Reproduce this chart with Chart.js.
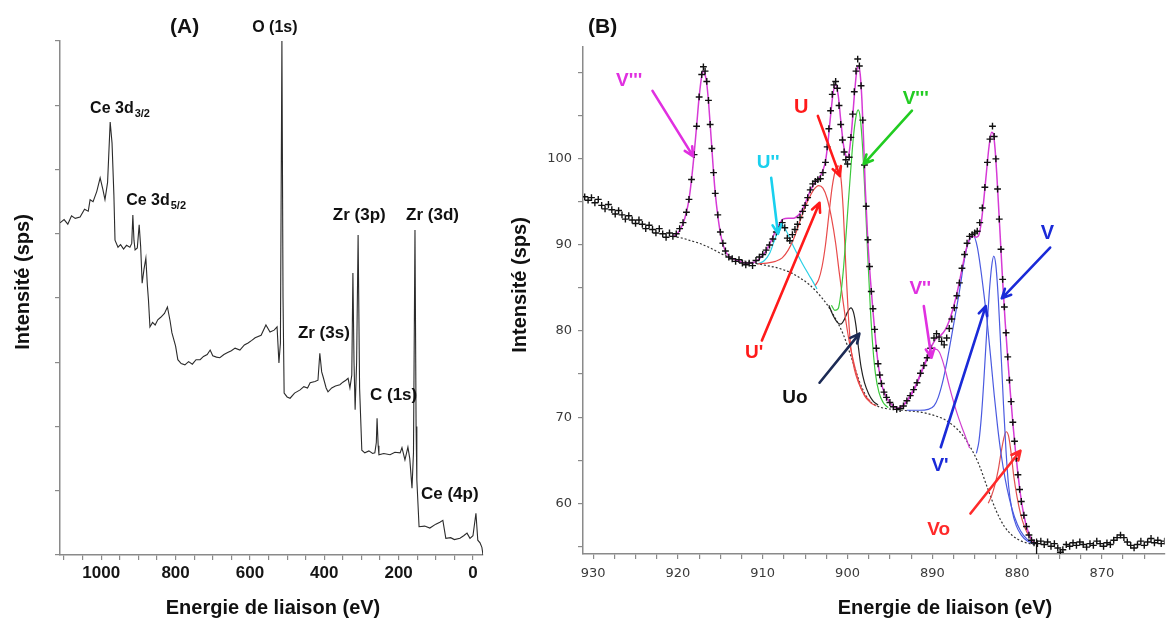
<!DOCTYPE html>
<html>
<head>
<meta charset="utf-8">
<script src="https://cdn.jsdelivr.net/npm/chart.js@4.4.1/dist/chart.umd.min.js"></script>
<style>
  body { margin: 0; background: #fff; width: 1170px; height: 623px; position: relative; overflow: hidden; }
  #survey { position: absolute; left: 0; top: 0; }
  #ce3d { position: absolute; left: 500px; top: 0; }
</style>
</head>
<body>
<canvas id="survey" width="500" height="623"></canvas>
<canvas id="ce3d" width="670" height="623"></canvas>
<script>
// (A) survey spectrum : [binding energy eV, intensity (arb.)]
const survey = [
  [1111, 5.17], [1100, 5.22], [1090, 5.15], [1080, 5.28], [1070, 5.24], [1057, 5.26], [1045, 5.38],
  [1035, 5.35], [1030, 5.53], [1022, 5.50], [1012, 5.66], [1003, 5.87], [996, 5.70], [990, 5.53],
  [983, 5.80], [976, 6.74], [971, 6.41], [966, 5.60], [963, 4.90], [955, 4.79], [948, 4.83],
  [940, 4.76], [932, 4.82], [923, 4.79], [918, 4.85], [915, 5.29], [912, 4.90], [909, 4.75],
  [903, 4.78], [898, 5.14], [894, 4.80], [890, 4.23], [885, 4.45], [880, 4.62], [876, 4.20],
  [873, 3.97], [869, 3.55], [862, 3.62], [855, 3.58], [848, 3.66], [840, 3.70], [830, 3.76],
  [822, 3.86], [815, 3.65], [810, 3.46], [800, 3.25], [794, 3.04], [785, 2.98], [775, 2.96],
  [765, 3.01], [755, 2.97], [745, 3.04], [734, 3.04], [725, 3.09], [715, 3.12], [707, 3.19],
  [700, 3.10], [690, 3.08], [681, 3.07], [670, 3.12], [660, 3.15], [650, 3.18], [640, 3.22],
  [627, 3.19], [615, 3.27], [605, 3.30], [595, 3.34], [586, 3.38], [570, 3.42], [557, 3.58],
  [546, 3.47], [535, 3.50], [527, 3.55], [522, 2.99], [518, 3.30], [514, 8.00], [511, 4.00],
  [508, 2.52], [500, 2.46], [492, 2.44], [480, 2.52], [465, 2.57], [455, 2.62], [445, 2.60],
  [438, 2.68], [425, 2.70], [417, 2.72], [412, 3.14], [407, 2.85], [403, 2.77], [395, 2.60],
  [390, 2.54], [380, 2.60], [370, 2.63], [358, 2.65], [350, 2.69], [342, 2.72], [336, 2.75],
  [331, 2.60], [326, 2.80], [323, 4.39], [320, 3.00], [317, 2.26], [313, 3.00], [309, 4.98],
  [305, 2.60], [299, 1.63], [291, 1.59], [280, 1.62], [270, 1.58], [264, 1.59], [260, 1.75],
  [258, 2.13], [255, 1.70], [253, 1.56], [240, 1.58], [223, 1.56], [210, 1.60], [196, 1.59],
  [191, 1.67], [183, 1.48], [175, 1.68], [170, 1.50], [164, 1.04], [160, 1.60], [156, 5.06],
  [153, 2.00], [151, 1.17], [145, 0.44], [130, 0.45], [116, 0.42], [100, 0.48], [89, 0.51],
  [81, 0.54], [73, 0.26], [60, 0.27], [50, 0.24], [35, 0.26], [25, 0.30], [16, 0.34], [8, 0.26],
  [0, 0.30], [-8, 0.65], [-13, 0.23], [-19, 0.19], [-24, 0.12], [-27, 0.0]
];

// (B) Ce 3d : measured points
const ceExp = [
  [931.0, 95.6], [930.6, 95.2], [930.2, 95.5], [929.8, 94.9], [929.4, 95.3], [929.0, 94.6], [928.6, 94.2],
  [928.2, 94.7], [927.8, 94.1], [927.4, 93.6], [927.0, 94.0], [926.6, 93.5], [926.2, 93.0], [925.8, 93.4],
  [925.4, 92.9], [925.0, 92.5], [924.6, 92.9], [924.2, 92.4], [923.8, 91.9], [923.4, 92.3], [923.0, 91.8],
  [922.6, 91.4], [922.2, 91.9], [921.8, 91.3], [921.4, 90.9], [921.0, 91.4], [920.6, 91.0], [920.2, 91.3],
  [919.8, 91.9], [919.4, 92.6], [919.0, 93.8], [918.7, 95.3], [918.4, 97.6], [918.1, 100.5], [917.8, 103.8],
  [917.5, 107.2], [917.2, 109.8], [917.0, 110.7], [916.8, 110.2], [916.6, 109.0], [916.4, 106.8], [916.2, 104.0],
  [916.0, 101.2], [915.8, 98.4], [915.6, 96.0], [915.3, 93.5], [915.0, 91.5], [914.7, 90.2], [914.4, 89.3],
  [914.0, 88.6], [913.6, 88.4], [913.2, 88.1], [912.8, 88.3], [912.4, 87.9], [912.0, 87.7], [911.6, 87.9],
  [911.2, 87.6], [910.8, 88.2], [910.4, 88.6], [910.0, 88.9], [909.6, 89.4], [909.2, 90.0], [908.8, 90.7],
  [908.4, 91.5], [908.0, 92.1], [907.7, 92.6], [907.4, 92.0], [907.1, 90.8], [906.8, 90.5], [906.5, 91.2],
  [906.2, 91.8], [905.9, 92.4], [905.6, 93.2], [905.3, 93.9], [905.0, 94.6], [904.7, 95.5], [904.4, 96.4],
  [904.1, 97.1], [903.8, 97.4], [903.5, 97.6], [903.2, 97.7], [902.9, 98.4], [902.6, 99.6], [902.4, 101.4],
  [902.2, 103.5], [902.0, 105.6], [901.8, 107.5], [901.6, 108.6], [901.4, 109.0], [901.2, 108.2], [901.0, 106.2],
  [900.8, 104.0], [900.6, 102.2], [900.4, 100.8], [900.2, 99.9], [900.0, 99.4], [899.8, 100.2], [899.6, 102.5],
  [899.4, 105.2], [899.2, 107.8], [899.0, 110.2], [898.8, 111.6], [898.6, 110.8], [898.4, 108.5], [898.2, 104.5],
  [898.0, 99.3], [897.8, 94.5], [897.6, 90.6], [897.4, 87.5], [897.2, 84.6], [897.0, 82.6], [896.8, 80.2],
  [896.6, 78.0], [896.4, 76.2], [896.2, 74.9], [896.0, 73.9], [895.7, 72.9], [895.4, 72.3], [895.0, 71.7],
  [894.6, 71.2], [894.2, 70.9], [893.8, 71.0], [893.4, 71.3], [893.0, 71.9], [892.6, 72.5], [892.2, 73.2],
  [891.8, 74.0], [891.4, 75.1], [891.0, 76.0], [890.6, 76.9], [890.2, 78.0], [889.8, 79.2], [889.5, 79.7],
  [889.2, 79.3], [888.9, 78.8], [888.6, 78.4], [888.3, 79.2], [888.0, 80.3], [887.7, 81.4], [887.4, 82.7],
  [887.1, 84.1], [886.8, 85.6], [886.5, 87.3], [886.2, 88.9], [885.9, 90.2], [885.6, 91.0], [885.3, 91.2],
  [885.0, 91.4], [884.7, 91.6], [884.4, 92.6], [884.1, 94.3], [883.8, 96.7], [883.5, 99.6], [883.2, 102.3],
  [882.9, 103.8], [882.7, 102.6], [882.5, 100.0], [882.3, 96.5], [882.1, 93.0], [881.9, 89.5], [881.7, 86.0],
  [881.5, 82.8], [881.3, 79.8], [881.1, 77.0], [880.9, 74.3], [880.7, 71.8], [880.5, 69.4], [880.3, 67.2],
  [880.1, 65.2], [879.9, 63.3], [879.7, 61.6], [879.5, 60.2], [879.2, 58.6], [878.9, 57.3], [878.6, 56.3],
  [878.3, 55.7], [878.0, 55.4], [877.6, 55.3], [877.2, 55.6], [876.8, 55.2], [876.4, 55.5], [876.0, 55.0],
  [875.6, 55.3], [875.2, 54.8], [874.9, 54.3], [874.6, 54.6], [874.2, 55.2], [873.8, 55.0], [873.4, 55.4],
  [873.0, 55.1], [872.6, 55.5], [872.2, 55.2], [871.8, 54.9], [871.4, 55.3], [871.0, 55.1], [870.6, 55.6],
  [870.2, 55.3], [869.8, 55.0], [869.4, 55.4], [869.0, 55.2], [868.6, 55.7], [868.2, 56.0], [867.8, 56.3],
  [867.4, 56.0], [867.0, 55.5], [866.6, 55.1], [866.2, 54.8], [865.8, 55.2], [865.4, 55.6], [865.0, 55.1],
  [864.6, 55.5], [864.2, 55.9], [863.8, 55.4], [863.4, 55.7], [863.0, 55.3], [862.6, 55.6]
];

// fitted envelope
const ceFit = [
  [920.6, 91.0], [920.2, 91.2], [919.8, 91.7], [919.4, 92.5], [919.0, 93.8], [918.7, 95.3], [918.4, 97.6],
  [918.1, 100.5], [917.8, 103.8], [917.5, 107.2], [917.2, 109.6], [917.0, 110.2], [916.8, 109.8], [916.6, 108.7],
  [916.4, 106.7], [916.2, 104.0], [916.0, 101.2], [915.8, 98.4], [915.6, 96.0], [915.3, 93.4], [915.0, 91.4],
  [914.7, 90.1], [914.4, 89.3], [914.0, 88.7], [913.0, 88.2], [912.0, 87.9], [911.0, 88.0], [910.4, 88.4],
  [910.0, 88.8], [909.5, 89.5], [909.0, 90.5], [908.5, 91.6], [908.0, 92.5], [907.6, 93.0], [907.0, 93.1],
  [906.4, 93.1], [906.0, 93.3], [905.6, 93.7], [905.2, 94.4], [904.8, 95.3], [904.4, 96.3], [904.0, 97.0],
  [903.6, 97.5], [903.2, 98.0], [902.9, 98.7], [902.6, 99.7], [902.3, 102.0], [902.0, 105.0], [901.7, 107.6],
  [901.4, 108.6], [901.1, 107.4], [900.8, 104.5], [900.5, 101.8], [900.2, 100.4], [900.0, 100.2], [899.8, 100.8],
  [899.5, 103.5], [899.2, 107.3], [898.9, 110.3], [898.7, 110.8], [898.5, 109.8], [898.3, 106.8], [898.1, 102.0],
  [897.9, 96.5], [897.6, 90.4], [897.3, 86.0], [897.0, 82.4], [896.7, 79.0], [896.4, 76.3], [896.0, 73.9],
  [895.5, 72.5], [895.0, 71.7], [894.5, 71.2], [894.0, 71.0], [893.5, 71.3], [893.0, 71.9], [892.5, 72.7],
  [892.0, 73.6], [891.5, 74.8], [891.0, 76.0], [890.5, 77.2], [890.0, 78.4], [889.5, 79.2], [889.0, 79.5],
  [888.5, 80.1], [888.0, 81.2], [887.5, 82.8], [887.0, 84.8], [886.5, 87.2], [886.0, 89.5], [885.6, 90.7],
  [885.2, 91.0], [884.8, 90.9], [884.5, 91.2], [884.2, 92.8], [883.9, 95.5], [883.6, 98.6], [883.3, 101.5],
  [883.0, 103.1], [882.8, 102.9], [882.6, 101.2], [882.4, 98.3], [882.2, 94.8], [882.0, 91.2], [881.7, 85.8],
  [881.4, 81.0], [881.1, 76.8], [880.8, 72.9], [880.5, 69.3], [880.2, 66.2], [879.9, 63.4], [879.6, 61.0],
  [879.2, 58.6], [878.8, 57.0], [878.4, 56.0], [878.0, 55.5], [877.7, 55.3]
];

const ceBackground = [
  [920.6, 91.0], [919.5, 90.8], [918.5, 90.5], [917.5, 90.2], [916.5, 89.8], [915.5, 89.3], [914.5, 88.8],
  [913.5, 88.4], [912.5, 88.2], [911.5, 88.0], [910.5, 87.8], [909.5, 87.6], [908.5, 87.4], [907.5, 87.1],
  [906.5, 86.7], [905.5, 86.1], [904.5, 85.4], [903.5, 84.4], [902.5, 83.2], [901.5, 81.6], [900.5, 79.6],
  [899.5, 76.8], [898.5, 73.9], [897.5, 72.0], [896.5, 71.3], [895.5, 71.0], [894.5, 70.9], [893.5, 70.8],
  [892.5, 70.7], [891.5, 70.6], [890.5, 70.4], [889.5, 70.1], [888.5, 69.7], [887.5, 69.0], [886.5, 68.0],
  [885.5, 66.5], [884.5, 64.5], [883.5, 61.8], [882.5, 59.2], [881.5, 57.3], [880.5, 56.2], [879.5, 55.6],
  [878.5, 55.3], [877.7, 55.2]
];

// end of the fitted range (short vertical mark on the axis)
const fitEnd = [[877.7, 54.1], [877.7, 55.9]];

// fitted components
const peakU2 = [ // U''
  [910.6, 87.8], [909.8, 88.2], [909.2, 89.0], [908.7, 90.3], [908.2, 91.6], [907.7, 92.3], [907.2, 91.6],
  [906.6, 90.3], [906.0, 89.1], [905.3, 87.8], [904.6, 86.6], [904.0, 85.6], [903.6, 84.9]
];
const peakU1 = [ // U'
  [910.6, 87.8], [909.5, 87.9], [908.5, 88.1], [907.7, 88.5], [907.0, 89.4], [906.4, 90.6], [905.8, 92.2],
  [905.2, 93.9], [904.6, 95.3], [904.0, 96.4], [903.4, 96.9], [902.9, 96.6], [902.4, 95.4], [901.9, 93.2],
  [901.4, 90.2], [901.0, 87.0], [900.6, 84.0], [900.2, 81.2], [899.8, 78.8], [899.3, 76.5], [898.7, 74.2],
  [898.0, 72.5], [897.3, 71.7], [896.6, 71.3]
];
const peakU = [
  [903.8, 85.3], [903.4, 86.0], [903.0, 87.5], [902.6, 90.0], [902.2, 93.5], [901.8, 96.8], [901.4, 98.8],
  [901.1, 99.2], [900.8, 98.0], [900.5, 94.0], [900.2, 87.5], [899.9, 81.8], [899.6, 78.0], [899.2, 75.6],
  [898.7, 74.0], [898.0, 72.6], [897.3, 71.8]
];
const peakV3 = [ // green V'''
  [901.9, 83.0], [901.5, 82.4], [901.1, 82.6], [900.8, 84.2], [900.5, 87.0], [900.2, 90.8], [899.9, 95.0],
  [899.6, 99.0], [899.3, 102.6], [899.0, 104.9], [898.75, 105.7], [898.5, 104.8], [898.2, 101.0], [897.9, 95.0],
  [897.6, 88.5], [897.3, 82.5], [897.0, 78.0], [896.7, 75.0], [896.3, 72.9], [895.8, 71.7], [895.2, 71.1]
];
const peakU0 = [
  [902.2, 83.0], [901.7, 81.8], [901.2, 81.0], [900.8, 80.8], [900.4, 81.3], [900.0, 82.2], [899.6, 82.7],
  [899.3, 82.2], [899.0, 80.6], [898.7, 78.0], [898.4, 75.8], [898.0, 74.0], [897.5, 72.7], [897.0, 71.9],
  [896.4, 71.4]
];
const peakV2 = [ // V''
  [894.2, 71.0], [893.5, 71.3], [893.0, 71.8], [892.5, 72.5], [892.0, 73.4], [891.5, 74.6], [891.0, 75.8],
  [890.5, 76.9], [890.0, 77.6], [889.6, 77.9], [889.2, 77.6], [888.8, 76.6], [888.4, 75.2], [888.0, 73.6],
  [887.5, 71.8], [887.0, 70.2], [886.5, 68.8], [886.0, 67.5], [885.6, 66.4]
];
const peakV1 = [ // V'
  [893.0, 70.8], [891.5, 70.8], [890.5, 70.9], [889.8, 71.3], [889.3, 72.3], [888.8, 74.0], [888.3, 76.3],
  [887.8, 79.0], [887.3, 81.8], [886.8, 84.6], [886.3, 87.8], [885.9, 89.8], [885.5, 90.8], [885.1, 91.0],
  [884.7, 89.8], [884.3, 87.3], [883.9, 84.2], [883.5, 80.8], [883.1, 76.8], [882.7, 72.6], [882.3, 68.9],
  [881.9, 65.8], [881.4, 62.8], [880.9, 60.5], [880.3, 58.4], [879.6, 56.8], [878.8, 55.8], [878.0, 55.3]
];
const peakV = [
  [884.8, 65.8], [884.5, 67.2], [884.2, 70.2], [883.9, 74.6], [883.6, 79.6], [883.3, 84.2], [883.0, 87.5],
  [882.75, 88.7], [882.5, 87.6], [882.2, 83.5], [881.9, 77.6], [881.6, 71.4], [881.3, 66.0], [881.0, 62.0],
  [880.6, 59.2], [880.1, 57.4], [879.5, 56.3], [878.8, 55.6], [878.0, 55.3]
];
const peakV0 = [
  [883.4, 60.0], [883.0, 60.9], [882.6, 62.2], [882.2, 64.0], [881.9, 65.8], [881.6, 67.4], [881.3, 68.3],
  [881.0, 67.8], [880.7, 65.8], [880.4, 63.2], [880.0, 60.7], [879.6, 58.8], [879.1, 57.2], [878.6, 56.2],
  [878.0, 55.4]
];

const xy = arr => arr.map(p => ({ x: p[0], y: p[1] }));
const ARIAL = '"Liberation Sans", Arial, sans-serif';

// draws text labels, arrows and axis titles
const marks = cfg => ({
  id: 'marks',
  afterDraw(chart) {
    const ctx = chart.ctx;
    const px = v => chart.scales.x.getPixelForValue(v);
    const py = v => chart.scales.y.getPixelForValue(v);
    ctx.save();
    (cfg.arrows || []).forEach(a => {
      const x1 = px(a.from[0]), y1 = py(a.from[1]), x2 = px(a.to[0]), y2 = py(a.to[1]);
      const ang = Math.atan2(y2 - y1, x2 - x1), h = 10;
      ctx.strokeStyle = a.color;
      ctx.lineWidth = 2.6;
      ctx.lineCap = 'round';
      ctx.lineJoin = 'round';
      ctx.beginPath();
      ctx.moveTo(x1, y1);
      ctx.lineTo(x2, y2);
      ctx.moveTo(x2 - h * Math.cos(ang - 0.45), y2 - h * Math.sin(ang - 0.45));
      ctx.lineTo(x2, y2);
      ctx.lineTo(x2 - h * Math.cos(ang + 0.45), y2 - h * Math.sin(ang + 0.45));
      ctx.stroke();
    });
    (cfg.labels || []).forEach(t => {
      const x = px(t.at[0]), y = py(t.at[1]);
      ctx.fillStyle = t.color || '#111';
      ctx.textAlign = 'left';
      ctx.textBaseline = 'alphabetic';
      ctx.font = `bold ${t.size}px ${ARIAL}`;
      ctx.fillText(t.text, x, y);
      if (t.sub) {
        const w = ctx.measureText(t.text).width;
        ctx.font = `bold ${Math.round(t.size * 0.68)}px ${ARIAL}`;
        ctx.fillText(t.sub, x + w + 1, y + t.size * 0.28);
      }
    });
    (cfg.titles || []).forEach(t => {
      ctx.save();
      ctx.translate(t.x, t.y);
      ctx.rotate(t.rot || 0);
      ctx.font = `bold 20px ${ARIAL}`;
      ctx.fillStyle = '#111';
      ctx.textAlign = 'center';
      ctx.textBaseline = 'middle';
      ctx.fillText(t.text, 0, 0);
      ctx.restore();
    });
    ctx.restore();
  }
});

const axisStyle = {
  border: { color: '#8a8a8a', width: 1.5 },
  grid: { drawOnChartArea: false, tickLength: 5, color: '#8a8a8a', lineWidth: 1.2 }
};

// ---------- (A) ----------
new Chart(document.getElementById('survey'), {
  type: 'line',
  data: {
    datasets: [{
      data: xy(survey), borderColor: '#2b2b2b', borderWidth: 1.1, pointRadius: 0, tension: 0
    }]
  },
  options: {
    responsive: false, animation: false, devicePixelRatio: 1,
    layout: { padding: { top: 41, right: 17, left: 0, bottom: 0 } },
    plugins: { legend: { display: false }, tooltip: { enabled: false } },
    scales: {
      x: {
        type: 'linear', reverse: true, min: -27, max: 1111,
        afterFit: s => { s.height = 68; },
        ...axisStyle,
        ticks: {
          stepSize: 50, includeBounds: false, autoSkip: false, maxRotation: 0, padding: 3,
          color: '#151515', font: { family: ARIAL, weight: 'bold', size: 17 },
          callback: v => (v % 200 === 0 ? String(v) : '')
        }
      },
      y: {
        min: 0, max: 8,
        afterFit: s => { s.width = 60; },
        ...axisStyle,
        ticks: { stepSize: 1, includeBounds: false, callback: () => '' }
      }
    }
  },
  plugins: [marks({
    labels: [
      { text: '(A)', at: [815, 8.12], size: 21 },
      { text: 'O (1s)', at: [594, 8.14], size: 16 },
      { text: 'Ce 3d', sub: '3/2', at: [1030, 6.88], size: 16 },
      { text: 'Ce 3d', sub: '5/2', at: [933, 5.45], size: 16 },
      { text: 'Zr (3p)', at: [377, 5.21], size: 17 },
      { text: 'Zr (3d)', at: [180, 5.21], size: 17 },
      { text: 'Zr (3s)', at: [471, 3.38], size: 17 },
      { text: 'C (1s)', at: [277, 2.41], size: 17 },
      { text: 'Ce (4p)', at: [140, 0.87], size: 17 }
    ],
    titles: [
      { text: 'Energie de liaison (eV)', x: 273, y: 608 },
      { text: 'Intensité (sps)', x: 23, y: 282, rot: -Math.PI / 2 }
    ]
  })]
});

// ---------- (B) ----------
const comp = (arr, color, order, extra) => Object.assign({
  data: xy(arr), borderColor: color, borderWidth: 1.2, pointRadius: 0,
  cubicInterpolationMode: 'monotone', fill: false, order
}, extra || {});

new Chart(document.getElementById('ce3d'), {
  type: 'line',
  data: {
    datasets: [
      {
        data: xy(ceExp), order: 0, showLine: false,
        pointStyle: 'cross', pointRadius: 3.4, pointBorderWidth: 1.4,
        pointBorderColor: '#111', pointBackgroundColor: '#111'
      },
      comp(ceFit, '#d63ad6', 1, { borderWidth: 1.5 }),
      comp(peakV3, '#3cc83c', 2),
      comp(peakU, '#e84a4a', 3),
      comp(peakU1, '#e84a4a', 4),
      comp(peakU2, '#2ad0e6', 5),
      comp(peakU0, '#222222', 6),
      comp(peakV2, '#d040d0', 7),
      comp(peakV, '#4a5ae0', 8),
      comp(peakV1, '#4a5ae0', 9),
      comp(peakV0, '#e05050', 10),
      comp(ceBackground, '#333333', 11, { borderDash: [2, 2], borderWidth: 1.2 }),
      comp(fitEnd, '#111111', 12, { borderWidth: 1.3 })
    ]
  },
  options: {
    responsive: false, animation: false, devicePixelRatio: 1,
    layout: { padding: { top: 47, right: 2, left: 0, bottom: 0 } },
    plugins: { legend: { display: false }, tooltip: { enabled: false } },
    scales: {
      x: {
        type: 'linear', reverse: true, min: 862.6, max: 931.2,
        afterFit: s => { s.height = 69; },
        ...axisStyle,
        ticks: {
          stepSize: 2.5, includeBounds: false, autoSkip: false, maxRotation: 0, padding: 7,
          color: '#3a3a3a', font: { family: '"DejaVu Sans", Verdana, sans-serif', size: 13 },
          callback: v => (v % 10 === 0 ? String(v) : '')
        }
      },
      y: {
        min: 54.1, max: 113,
        afterFit: s => { s.width = 83; },
        ...axisStyle,
        ticks: {
          stepSize: 5, includeBounds: false, padding: 6,
          color: '#3a3a3a', font: { family: '"DejaVu Sans", Verdana, sans-serif', size: 13 },
          callback: v => (v % 10 === 0 && v <= 100 ? String(v) : '')
        }
      }
    }
  },
  plugins: [marks({
    arrows: [
      { from: [923.0, 107.9], to: [918.2, 100.3], color: '#e030e0' },
      { from: [909.0, 97.8], to: [908.2, 91.3], color: '#19d0ee' },
      { from: [903.5, 105.0], to: [900.9, 98.0], color: '#ff1a1a' },
      { from: [892.4, 105.6], to: [898.1, 99.4], color: '#22cc22' },
      { from: [910.1, 78.9], to: [903.3, 94.9], color: '#ff1a1a' },
      { from: [903.3, 74.0], to: [898.6, 79.7], color: '#1c2b55' },
      { from: [891.0, 82.9], to: [890.1, 76.9], color: '#e030e0' },
      { from: [876.1, 89.7], to: [881.8, 83.8], color: '#1a2ad8' },
      { from: [889.0, 66.5], to: [883.7, 82.9], color: '#1a2ad8' },
      { from: [885.5, 58.8], to: [879.6, 66.1], color: '#ff2a2a' }
    ],
    labels: [
      { text: '(B)', at: [930.6, 114.6], size: 21 },
      { text: "V'''", at: [927.3, 108.5], size: 19, color: '#e030e0' },
      { text: "U''", at: [910.7, 99.0], size: 19, color: '#19d0ee' },
      { text: 'U', at: [906.3, 105.3], size: 20, color: '#ff1a1a' },
      { text: "V'''", at: [893.5, 106.4], size: 19, color: '#22cc22' },
      { text: "U'", at: [912.1, 76.9], size: 19, color: '#ff1a1a' },
      { text: 'Uo', at: [907.7, 71.6], size: 19, color: '#111' },
      { text: "V''", at: [892.7, 84.3], size: 19, color: '#e030e0' },
      { text: 'V', at: [877.2, 90.7], size: 20, color: '#1a2ad8' },
      { text: "V'", at: [890.1, 63.8], size: 19, color: '#1a2ad8' },
      { text: 'Vo', at: [890.6, 56.3], size: 19, color: '#ff2a2a' }
    ],
    titles: [
      { text: 'Energie de liaison (eV)', x: 445, y: 608 },
      { text: 'Intensité (sps)', x: 20, y: 285, rot: -Math.PI / 2 }
    ]
  })]
});
</script>
</body>
</html>
